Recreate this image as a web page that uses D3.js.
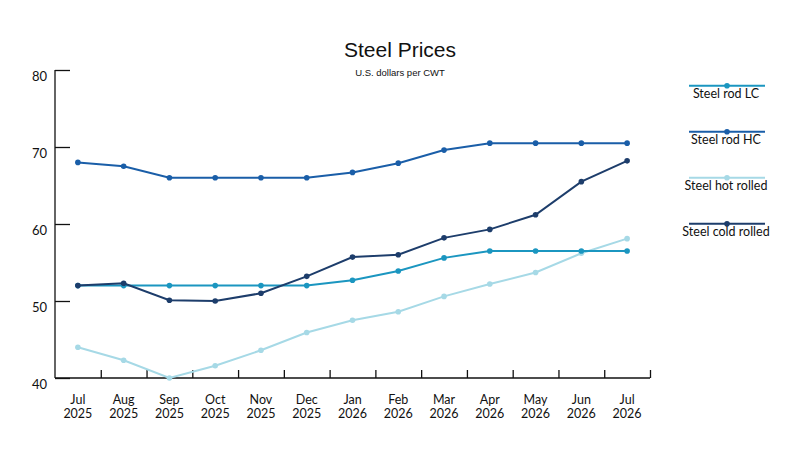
<!DOCTYPE html>
<html><head><meta charset="utf-8">
<script src="https://cdn.jsdelivr.net/npm/d3@7/dist/d3.min.js"></script>
<style>body{margin:0;background:#fff}svg{display:block}</style>
</head><body>
<svg id="c" width="800" height="450"></svg>
<script>
const months = ["Jul","Aug","Sep","Oct","Nov","Dec","Jan","Feb","Mar","Apr","May","Jun","Jul"];
const years = ["2025","2025","2025","2025","2025","2025","2026","2026","2026","2026","2026","2026","2026"];
const yTicks = [40,50,60,70,80];
const seriesNames = ["Steel rod LC","Steel rod HC","Steel hot rolled","Steel cold rolled"];
const rodLC =      [52.0,52.0,52.0,52.0,52.0,52.0,52.7,53.9,55.6,56.5,56.5,56.5,56.5];
const rodHC =      [68.0,67.5,66.0,66.0,66.0,66.0,66.7,67.9,69.6,70.5,70.5,70.5,70.5];
const hotRolled =  [44.0,42.3,40.0,41.6,43.6,45.9,47.5,48.6,50.6,52.2,53.7,56.2,58.1];
const coldRolled = [52.0,52.3,50.1,50.0,51.0,53.2,55.7,56.0,58.2,59.3,61.2,65.5,68.2];
const colors = ["#1b96c0","#1a5ea8","#a6d9e6","#1d3d6b"];

const seriesData = [rodLC, rodHC, hotRolled, coldRolled];
const drawOrder = [2,0,3,1];
const svg = d3.select("#c");
const idx = months.map((m,i)=>i);
const x = d3.scaleBand().domain(idx).range([55,650]);
const y = d3.scaleLinear().domain([40,80]).range([378,70]);
const labelFont = "Lato, 'Noto Sans', sans-serif";

// title
svg.append("text").attr("x",400).attr("y",57).attr("text-anchor","middle")
  .attr("font-family","'Liberation Sans', Arial, sans-serif").attr("font-size",21).attr("fill","#111").text("Steel Prices");
svg.append("text").attr("x",400).attr("y",76).attr("text-anchor","middle")
  .attr("font-family","'Liberation Sans', Arial, sans-serif").attr("font-size",9.5).attr("fill","#111").text("U.S. dollars per CWT");

// y axis
const ya = svg.append("g").attr("transform","translate(55,0)")
  .call(d3.axisRight(y).tickValues(yTicks).tickSize(15).tickFormat(""));
ya.select(".domain").attr("d","M0,70V378").attr("stroke","#111").attr("stroke-width",1.3);
ya.selectAll(".tick line").attr("stroke","#111").attr("stroke-width",1.3);
svg.append("g").selectAll("text").data(yTicks).join("text")
  .attr("x",47).attr("y",d=>y(d)+11).attr("text-anchor","end")
  .attr("font-family",labelFont).attr("font-size",13).attr("fill","#111").text(d=>d);

// x axis
const xb = d3.scaleLinear().domain([0,13]).range([55,650]);
const xa = svg.append("g").attr("transform","translate(0,378)")
  .call(d3.axisTop(xb).tickValues(d3.range(1,14)).tickSize(8).tickFormat(""));
xa.select(".domain").attr("d","M55,0H650").attr("stroke","#111").attr("stroke-width",1.3);
xa.selectAll(".tick line").attr("stroke","#111").attr("stroke-width",1.3);
const xl = svg.append("g").selectAll("text").data(idx).join("text")
  .attr("text-anchor","middle").attr("font-family",labelFont)
  .attr("font-size",12.5).attr("fill","#111");
xl.append("tspan").attr("x",d=>x(d)+x.bandwidth()/2).attr("y",404).text(d=>months[d]);
xl.append("tspan").attr("x",d=>x(d)+x.bandwidth()/2).attr("y",417.5).text(d=>years[d]);

// lines
const cx = i => x(i)+x.bandwidth()/2;
const line = d3.line().x((d,i)=>cx(i)).y(d=>y(d));
drawOrder.forEach(s=>{
  const g = svg.append("g");
  g.append("path").attr("d",line(seriesData[s])).attr("fill","none")
    .attr("stroke",colors[s]).attr("stroke-width",2);
  g.selectAll("circle").data(seriesData[s]).join("circle")
    .attr("cx",(d,i)=>cx(i)).attr("cy",d=>y(d)).attr("r",2.8).attr("fill",colors[s]);
});

// legend
const lg = svg.append("g").selectAll("g").data(seriesNames).join("g")
  .attr("transform",(d,i)=>`translate(0,${85.7+i*46})`);
lg.append("line").attr("x1",689).attr("x2",765).attr("stroke",(d,i)=>colors[i]).attr("stroke-width",2);
lg.append("circle").attr("cx",727).attr("r",2.8).attr("fill",(d,i)=>colors[i]);
lg.append("text").attr("x",726).attr("y",12).attr("text-anchor","middle")
  .attr("font-family",labelFont).attr("font-size",12.5).attr("fill","#111").text(d=>d);
</script>
</body></html>
